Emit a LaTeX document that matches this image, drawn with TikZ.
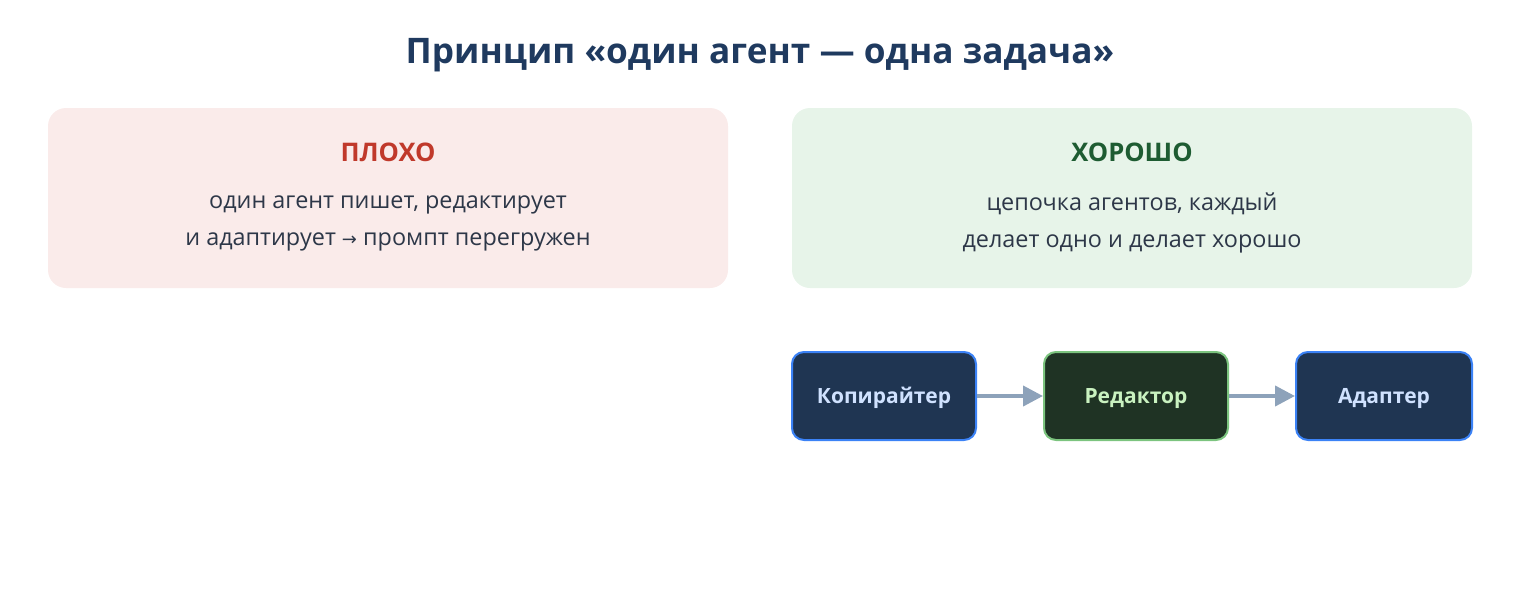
\documentclass[tikz,border=0pt]{standalone}
\usepackage{fontspec}
\setmainfont{Open Sans}
\newfontfamily\symfont{DejaVu Sans}
\usetikzlibrary{positioning,arrows.meta}
\definecolor{titleblue}{HTML}{1F3A5F}
\definecolor{badfill}{HTML}{FAEBEA}
\definecolor{badred}{HTML}{C0392B}
\definecolor{goodfill}{HTML}{E7F4E9}
\definecolor{goodgreen}{HTML}{1E5C32}
\definecolor{bodygray}{HTML}{2D3748}
\definecolor{navyfill}{HTML}{1F3552}
\definecolor{blueline}{HTML}{3B82F6}
\definecolor{lightblue}{HTML}{D0E2FF}
\definecolor{darkgreen}{HTML}{1F3324}
\definecolor{greenline}{HTML}{7CC47F}
\definecolor{lightgreen}{HTML}{C9F2C0}
\definecolor{arrowgray}{HTML}{8DA2BA}

\begin{document}
\begin{tikzpicture}[x=0.5pt, y=-0.5pt,
    panel/.style={rounded corners=9pt, minimum width=340pt, minimum height=90pt, inner sep=0pt},
    heading/.style={font=\bfseries\fontsize{12.8}{15}\selectfont},
    body/.style={align=center, text=bodygray, font=\fontsize{11.7}{18.5}\selectfont},
    agent/.style={draw, line width=1pt, rounded corners=6pt, minimum width=92pt, minimum height=44pt, inner sep=0pt, text height=7.6pt, text depth=0pt, font=\bfseries\fontsize{10.5}{12}\selectfont},
    flow/.style={draw=arrowgray, line width=2pt, -{Triangle[length=10pt, width=10pt]}}]
    \useasboundingbox (0,0) rectangle (1520,600);

    \node[text=titleblue, font=\bfseries\fontsize{17.6}{21}\selectfont] (title) at (760,55) {Принцип «один агент — одна задача»};

    % two panels
    \node[panel, fill=badfill] (bad) at (388,198) {};
    \node[panel, fill=goodfill] (good) at (1132,198) {};
    \node[heading, text=badred] (badhead) at (388,152) {ПЛОХО};
    \node[heading, text=goodgreen] (goodhead) at (1132,152) {ХОРОШО};
    \node[body] (badtext) at (388,223) {один агент пишет, редактирует\\и адаптирует {\symfont\small →} промпт перегружен};
    \node[body] (goodtext) at (1132,223) {цепочка агентов, каждый\\делает одно и делает хорошо};

    % chain of agents
    \node[agent, fill=navyfill, draw=blueline, text=lightblue] (copy) at (884,396) {Копирайтер};
    \node[agent, fill=darkgreen, draw=greenline, text=lightgreen, right=33pt of copy] (edit) {Редактор};
    \node[agent, fill=navyfill, draw=blueline, text=lightblue, minimum width=88pt, right=33pt of edit] (adapt) {Адаптер};
    \draw[flow] (copy) -- (edit);
    \draw[flow] (edit) -- (adapt);
\end{tikzpicture}
\end{document}
